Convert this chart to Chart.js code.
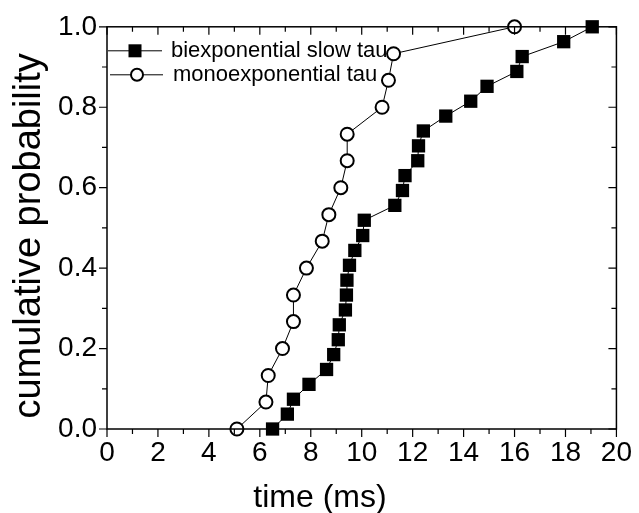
<!DOCTYPE html>
<html>
<head>
<meta charset="utf-8">
<script src="https://cdn.jsdelivr.net/npm/chart.js@4.4.1/dist/chart.umd.min.js"></script>
<style>
  html, body { margin: 0; padding: 0; background: #fff; }
  #wrap { width: 639px; height: 513px; }
</style>
</head>
<body>
<div id="wrap"><canvas id="myChart" width="639" height="513"></canvas></div>
<script>
// monoexponential tau (open circles)
const monoTime = [5.1, 6.24, 6.33, 6.89, 7.32, 7.32, 7.83, 8.45, 8.71, 9.18, 9.43, 9.43, 10.8, 11.05, 11.25, 16.0];
const monoProb = [0, 0.067, 0.133, 0.2, 0.267, 0.333, 0.4, 0.467, 0.533, 0.6, 0.667, 0.733, 0.8, 0.867, 0.933, 1.0];

// biexponential slow tau (filled squares)
const biTime = [6.5, 7.08, 7.32, 7.93, 8.62, 8.9, 9.08, 9.12, 9.36, 9.4, 9.42, 9.52, 9.73, 10.04,
  10.1, 11.3, 11.6, 11.7, 12.2, 12.23, 12.42, 13.3, 14.28, 14.92, 16.09, 16.3, 17.93, 19.05];
const biProb = [0, 0.037, 0.074, 0.111, 0.148, 0.185, 0.222, 0.259, 0.296, 0.333, 0.370, 0.407, 0.444, 0.481,
  0.519, 0.556, 0.593, 0.630, 0.667, 0.704, 0.741, 0.778, 0.815, 0.852, 0.889, 0.926, 0.963, 1.0];

const xTicks = [0, 2, 4, 6, 8, 10, 12, 14, 16, 18, 20];
const xMinor = [1, 3, 5, 7, 9, 11, 13, 15, 17, 19];
const yTicks = [0, 0.2, 0.4, 0.6, 0.8, 1.0];
const yMinor = [0.1, 0.3, 0.5, 0.7, 0.9];
const yTickLabels = ["0.0", "0.2", "0.4", "0.6", "0.8", "1.0"];

const seriesNames = ["biexponential slow tau", "monoexponential tau"];
const xTitle = "time (ms)";
const yTitle = "cumulative probability";

const FONT = "'Liberation Sans', Arial, sans-serif";

const toPts = (xs, ys) => xs.map((x, i) => ({ x: x, y: ys[i] }));

// ticks, frame, legend and axis titles in Origin style
const frame = {
  id: "frame",
  afterDraw(chart) {
    const { ctx, chartArea: a, scales } = chart;
    const sx = scales.x, sy = scales.y;
    ctx.save();
    ctx.strokeStyle = "#000";
    ctx.lineWidth = 1.5;
    ctx.strokeRect(a.left, a.top, a.right - a.left, a.bottom - a.top);

    ctx.lineWidth = 1.2;
    ctx.beginPath();
    const tx = (v, len) => {
      const p = sx.getPixelForValue(v);
      ctx.moveTo(p, a.bottom); ctx.lineTo(p, a.bottom + len);
      ctx.moveTo(p, a.top); ctx.lineTo(p, a.top + len);
    };
    const ty = (v, len) => {
      const p = sy.getPixelForValue(v);
      ctx.moveTo(a.left, p); ctx.lineTo(a.left - len, p);
      ctx.moveTo(a.right, p); ctx.lineTo(a.right - len, p);
    };
    xTicks.forEach(v => tx(v, 8));
    xMinor.forEach(v => tx(v, 5));
    yTicks.forEach(v => ty(v, 8));
    yMinor.forEach(v => ty(v, 5));
    ctx.stroke();

    // legend
    ctx.lineWidth = 1;
    ctx.fillStyle = "#000";
    ctx.beginPath();
    ctx.moveTo(a.left + 1, a.top + 24); ctx.lineTo(a.left + 55, a.top + 24);
    ctx.moveTo(a.left + 3, a.top + 48); ctx.lineTo(a.left + 56, a.top + 48);
    ctx.stroke();
    ctx.fillRect(a.left + 21.5, a.top + 17.5, 13, 13);
    ctx.beginPath();
    ctx.arc(a.left + 30, a.top + 48, 6, 0, Math.PI * 2);
    ctx.fillStyle = "#fff";
    ctx.fill();
    ctx.lineWidth = 2;
    ctx.stroke();
    ctx.fillStyle = "#000";
    ctx.font = "22px " + FONT;
    ctx.textBaseline = "middle";
    ctx.textAlign = "left";
    ctx.fillText(seriesNames[0], a.left + 64, a.top + 24);
    ctx.fillText(seriesNames[1], a.left + 66, a.top + 48);

    // axis titles
    ctx.textAlign = "center";
    ctx.textBaseline = "alphabetic";
    ctx.font = "32px " + FONT;
    ctx.fillText(xTitle, a.left + 213, chart.height - 6);
    ctx.save();
    ctx.translate(40, (a.top + a.bottom) / 2 + 8);
    ctx.rotate(-Math.PI / 2);
    ctx.font = "38px " + FONT;
    ctx.fillText(yTitle, 0, 0);
    ctx.restore();
    ctx.restore();
  }
};

const ctx = document.getElementById("myChart").getContext("2d");

new Chart(ctx, {
  type: "scatter",
  data: {
    datasets: [
      {
        label: seriesNames[0],
        data: toPts(biTime, biProb),
        showLine: true,
        borderColor: "#000",
        borderWidth: 1,
        pointStyle: "rect",
        pointRadius: 9.4,
        pointBackgroundColor: "#000",
        pointBorderColor: "#000",
        pointBorderWidth: 0,
        clip: false,
      },
      {
        label: seriesNames[1],
        data: toPts(monoTime, monoProb),
        showLine: true,
        borderColor: "#000",
        borderWidth: 1,
        pointStyle: "circle",
        pointRadius: 6.5,
        pointBackgroundColor: "#fff",
        pointBorderColor: "#000",
        pointBorderWidth: 2,
        clip: false,
      },
    ],
  },
  options: {
    responsive: false,
    animation: false,
    layout: { autoPadding: false, padding: { top: 24, right: 20, left: 0, bottom: 0 } },
    plugins: {
      legend: { display: false },
      tooltip: { enabled: false },
    },
    scales: {
      x: {
        type: "linear",
        min: 0,
        max: 20,
        afterBuildTicks: s => { s.ticks = xTicks.map(v => ({ value: v })); },
        afterFit: s => { s.height = 84; },
        grid: { display: false, drawTicks: false, tickLength: 0 },
        border: { display: false },
        ticks: {
          color: "#000",
          padding: 7,
          maxRotation: 0,
          font: { family: FONT, size: 28 },
        },
      },
      y: {
        type: "linear",
        min: 0,
        max: 1,
        afterBuildTicks: s => { s.ticks = yTicks.map(v => ({ value: v })); },
        afterFit: s => { s.width = 107; },
        grid: { display: false, drawTicks: false, tickLength: 0 },
        border: { display: false },
        ticks: {
          color: "#000",
          padding: 10,
          font: { family: FONT, size: 28 },
          callback: (v, i) => yTickLabels[i],
        },
      },
    },
  },
  plugins: [frame],
});
</script>
</body>
</html>
